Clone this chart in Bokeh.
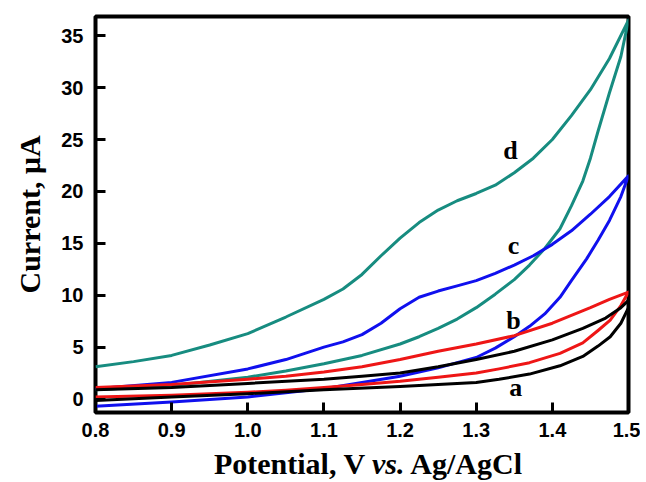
from bokeh.plotting import figure
from bokeh.models import Label, Range1d, FixedTicker, Div
from bokeh.layouts import column
from bokeh.embed import file_html
from bokeh.resources import INLINE

# Curve d (teal): forward (upper) and reverse (lower) branches
d_up_x = [0.80, 0.85, 0.90, 0.95, 1.00, 1.05, 1.10, 1.125, 1.15, 1.175, 1.20, 1.225, 1.25, 1.275, 1.30, 1.325, 1.35, 1.375, 1.40, 1.425, 1.45, 1.475, 1.50]
d_up_y = [3.1, 3.6, 4.2, 5.2, 6.3, 7.9, 9.6, 10.6, 12.0, 13.8, 15.5, 17.0, 18.2, 19.1, 19.8, 20.6, 21.8, 23.2, 25.0, 27.3, 29.8, 32.8, 36.5]
d_dn_x = [1.50, 1.49, 1.475, 1.46, 1.45, 1.44, 1.425, 1.41, 1.39, 1.37, 1.35, 1.325, 1.30, 1.275, 1.25, 1.225, 1.20, 1.15, 1.10, 1.05, 1.00, 0.90, 0.80]
d_dn_y = [36.5, 33.0, 29.5, 25.8, 23.2, 21.0, 18.6, 16.4, 14.5, 12.9, 11.5, 10.1, 8.8, 7.7, 6.8, 6.0, 5.3, 4.2, 3.4, 2.7, 2.1, 1.3, 0.9]

# Curve c (blue)
c_up_x = [0.80, 0.90, 1.00, 1.05, 1.10, 1.125, 1.15, 1.175, 1.20, 1.225, 1.25, 1.275, 1.30, 1.325, 1.35, 1.375, 1.40, 1.425, 1.45, 1.475, 1.50]
c_up_y = [1.0, 1.6, 2.9, 3.8, 5.0, 5.5, 6.2, 7.3, 8.7, 9.8, 10.4, 10.9, 11.4, 12.1, 12.9, 13.8, 14.9, 16.2, 17.8, 19.5, 21.5]
c_dn_x = [1.50, 1.49, 1.475, 1.46, 1.445, 1.425, 1.41, 1.39, 1.37, 1.35, 1.325, 1.30, 1.275, 1.25, 1.225, 1.20, 1.15, 1.10, 1.05, 1.00, 0.90, 0.80]
c_dn_y = [21.5, 19.5, 17.2, 15.3, 13.5, 11.4, 9.8, 8.2, 7.0, 6.0, 4.9, 4.0, 3.5, 3.0, 2.6, 2.2, 1.6, 1.0, 0.6, 0.2, -0.3, -0.7]

# Curve b (red)
b_up_x = [0.80, 0.90, 1.00, 1.05, 1.10, 1.15, 1.20, 1.25, 1.30, 1.35, 1.40, 1.45, 1.475, 1.50]
b_up_y = [1.1, 1.4, 1.9, 2.2, 2.6, 3.1, 3.8, 4.6, 5.3, 6.1, 7.3, 8.8, 9.6, 10.3]
b_dn_x = [1.50, 1.49, 1.476, 1.46, 1.44, 1.41, 1.37, 1.33, 1.30, 1.25, 1.20, 1.15, 1.10, 1.05, 1.00, 0.90, 0.80]
b_dn_y = [10.3, 9.0, 7.6, 6.6, 5.4, 4.4, 3.5, 2.9, 2.5, 2.1, 1.7, 1.4, 1.1, 0.85, 0.65, 0.35, 0.2]

# Curve a (black)
a_up_x = [0.80, 0.90, 1.00, 1.10, 1.15, 1.20, 1.25, 1.30, 1.35, 1.40, 1.44, 1.47, 1.49, 1.50]
a_up_y = [0.9, 1.1, 1.5, 1.9, 2.2, 2.5, 3.1, 3.8, 4.6, 5.7, 6.8, 7.8, 8.8, 9.5]
a_dn_x = [1.50, 1.49, 1.476, 1.46, 1.44, 1.41, 1.37, 1.33, 1.30, 1.25, 1.20, 1.10, 1.00, 0.90, 0.80]
a_dn_y = [8.8, 7.3, 6.0, 5.1, 4.1, 3.2, 2.4, 1.9, 1.6, 1.4, 1.2, 0.9, 0.5, 0.2, -0.15]

curve_names = ["a", "b", "c", "d"]
label_x = [1.352, 1.349, 1.349, 1.345]
label_y = [1.1, 7.6, 14.8, 23.9]

x_ticks = [0.8, 0.9, 1.0, 1.1, 1.2, 1.3, 1.4, 1.5]
y_ticks = [0, 5, 10, 15, 20, 25, 30, 35]

p = figure(width=640, height=450, output_backend="svg", toolbar_location=None,
           x_range=Range1d(0.8, 1.5), y_range=Range1d(-1.3, 36.85),
           min_border_left=95, min_border_right=12, min_border_top=16, min_border_bottom=38)
p.background_fill_color = "white"
p.border_fill_color = "white"
p.grid.visible = False
p.outline_line_color = "black"
p.outline_line_width = 4

serif = "Liberation Serif"
sans = "Liberation Sans"

for ax in (p.xaxis[0], p.yaxis[0]):
    ax.axis_line_color = None
    ax.major_tick_in = 10
    ax.major_tick_out = 0
    ax.major_tick_line_width = 3
    ax.major_tick_line_color = "black"
    ax.minor_tick_line_color = None
    ax.major_label_text_font = sans
    ax.major_label_text_font_style = "bold"
    ax.major_label_text_font_size = "20px"
    ax.major_label_text_color = "black"

p.xaxis[0].ticker = FixedTicker(ticks=x_ticks)
p.yaxis[0].ticker = FixedTicker(ticks=y_ticks)
p.xaxis[0].major_label_overrides = {t: f"{t:.1f}" for t in x_ticks}
p.xaxis[0].major_label_standoff = 10
p.yaxis[0].major_label_standoff = 12

p.yaxis[0].axis_label = "Current, \u03bcA"
p.yaxis[0].axis_label_text_font = serif
p.yaxis[0].axis_label_text_font_style = "bold"
p.yaxis[0].axis_label_text_font_size = "30px"
p.yaxis[0].axis_label_text_color = "black"
p.yaxis[0].axis_label_standoff = 12

lw = 3
teal = "#178c80"
blue = "#1010ee"
red = "#ee1616"
black = "#000000"

p.line(d_up_x + d_dn_x, d_up_y + d_dn_y, line_color=teal, line_width=lw, line_join="round")
p.line(c_up_x + c_dn_x, c_up_y + c_dn_y, line_color=blue, line_width=lw, line_join="round")
p.line(b_up_x + b_dn_x, b_up_y + b_dn_y, line_color=red, line_width=lw, line_join="round")
p.line(a_up_x + a_dn_x, a_up_y + a_dn_y, line_color=black, line_width=lw, line_join="round")

for name, lx, ly in zip(curve_names, label_x, label_y):
    p.add_layout(Label(x=lx, y=ly, text=name, text_font=serif, text_font_style="bold",
                       text_font_size="26px", text_align="center", text_baseline="middle",
                       text_color="black"))

x_title = Div(text="<div style='position:relative; top:-6px'><b>Potential, V <i>vs.</i> Ag/AgCl</b></div>",
              width=640, height=30,
              styles={"font-family": "'Liberation Serif', serif", "font-size": "30px",
                      "line-height": "30px", "text-align": "center", "color": "black",
                      "padding-left": "86px", "box-sizing": "border-box", "width": "640px",
                      "white-space": "nowrap"})

layout = column(p, x_title, spacing=0)
open("out.html", "w").write(file_html(layout, INLINE))
